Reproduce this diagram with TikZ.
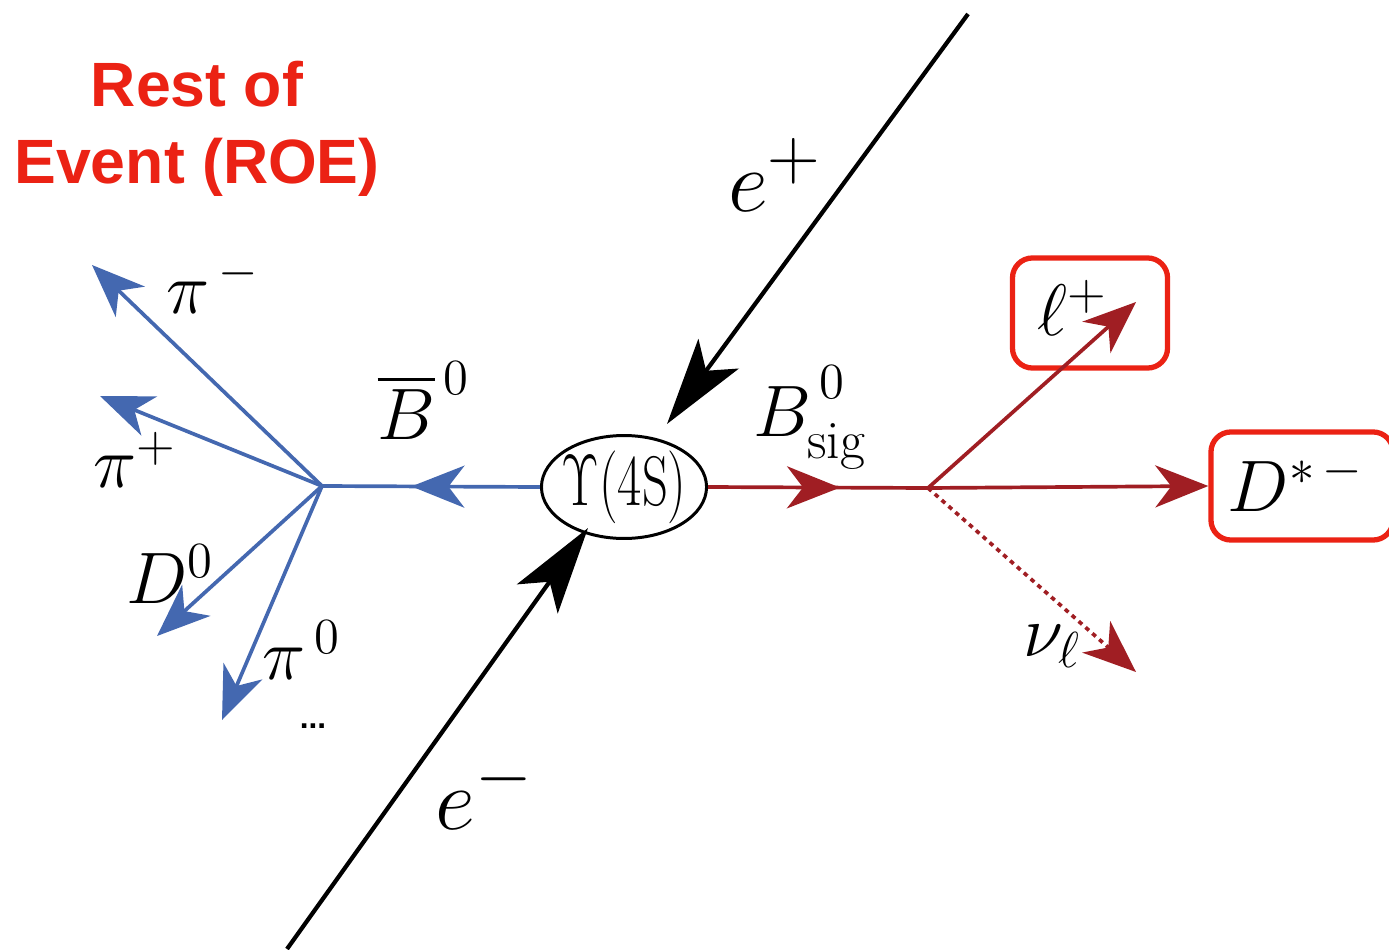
\documentclass[tikz,border=0pt]{standalone}
\usepackage{fontspec}
\usepackage{amsmath}
\newfontfamily\roefont{Liberation Sans}
\usetikzlibrary{arrows.meta,decorations.markings,shapes.geometric}
\definecolor{cBlue}{HTML}{4468B0}
\definecolor{cRed}{HTML}{A01E23}
\definecolor{cBox}{HTML}{EB2214}
\tikzset{
  beam/.style={line width=1.2pt,black,-{Stealth[length=8.7mm,width=5mm,inset=2.1mm]}},
  roe/.style={line width=1.05pt,cBlue,-{Stealth[length=5.3mm,width=4.2mm,inset=1.6mm]}},
  sig/.style={line width=1.05pt,cRed,-{Stealth[length=5.3mm,width=4.2mm,inset=1.6mm]}},
  midarrow/.style={postaction={decorate},decoration={markings,
    mark=at position #1 with {\arrow{Stealth[length=5.3mm,width=4.2mm,inset=1.6mm]}}}},
  redbox/.style={draw=cBox,line width=1.5pt,rounded corners=2mm,inner sep=0pt},
  lab/.style={font=\fontsize{22}{26}\selectfont},
  beamlab/.style={font=\fontsize{29}{34}\selectfont},
}
\begin{document}
\begin{tikzpicture}[x=0.01cm,y=-0.01cm]
  \useasboundingbox (0,0) rectangle (1389,949);
  % title
  \node[cBox,align=center,font=\roefont\bfseries\fontsize{17.8}{22}\selectfont] (roe) at (197,129) {Rest of\\Event (ROE)};
  % collision
  \node[ellipse,draw,line width=0.85pt,minimum width=1.65cm,minimum height=1cm,inner xsep=-2mm,inner ysep=0pt,
        font=\fontsize{20}{24}\selectfont] (ups) at (624,487) {\scalebox{0.72}[1]{$\Upsilon(4\mathrm{S})$}};
  \coordinate (epS) at (968,14);
  \coordinate (epT) at (667,424);
  \coordinate (emS) at (287,949);
  \coordinate (emT) at (588,528);
  \draw[beam] (epS) -- (epT);
  \draw[beam] (emS) -- (emT);
  \node[beamlab] (ep) at (775,175) {$e^+$};
  \node[beamlab] (em) at (485,792) {$e^-$};
  % tag side
  \coordinate (vB) at (322,486);
  \coordinate (tPiM) at (92,265);
  \coordinate (tPiP) at (100,396);
  \coordinate (tDz) at (157,636);
  \coordinate (tPiz) at (222,720);
  \draw[line width=1.05pt,cBlue,midarrow=0.59] (ups.west) -- (vB);
  \draw[roe] (vB) -- (tPiM);
  \draw[roe] (vB) -- (tPiP);
  \draw[roe] (vB) -- (tDz);
  \draw[roe] (vB) -- (tPiz);
  \node[lab] (lBbar) at (424,401) {$\overline{B}^{\,0}$};
  \node[lab] (lPiM) at (213,285) {$\pi^{\,-}$};
  \node[lab] (lPiP) at (135,460) {$\pi^{+}$};
  \node[lab] (lDz) at (170,574) {$D^0$};
  \node[lab] (lPiz) at (302,650) {$\pi^{\,0}$};
  \node[font=\roefont\bfseries\fontsize{9}{10}\selectfont] (dots) at (313,726) {...};
  % signal side
  \coordinate (vS) at (928,488);
  \coordinate (tLep) at (1136,302);
  \coordinate (tNu) at (1136,672);
  \node[redbox,minimum width=1.55cm,minimum height=1.1cm] (lbox) at (1090,313) {};
  \node[redbox,minimum width=1.82cm,minimum height=1.08cm] (dbox) at (1302,486) {};
  \draw[line width=1.05pt,cRed,midarrow=0.6] (ups.east) -- (vS);
  \draw[sig] (vS) -- (tLep);
  \draw[sig] (vS) -- (dbox.west);
  \draw[sig,dash pattern=on 1.3pt off 1.3pt] (vS) -- (tNu);
  \node[lab] (lBsig) at (810,415) {$B^{\,0\vphantom{(}}_{\mathrm{sig}}$};
  \node[lab] (lLep) at (1073,308) {$\ell^+$};
  \node[lab] (lDst) at (1296,483) {$D^{*\,-}$};
  \node[lab] (lNu) at (1052,646) {$\nu_\ell$};
\end{tikzpicture}
\end{document}
